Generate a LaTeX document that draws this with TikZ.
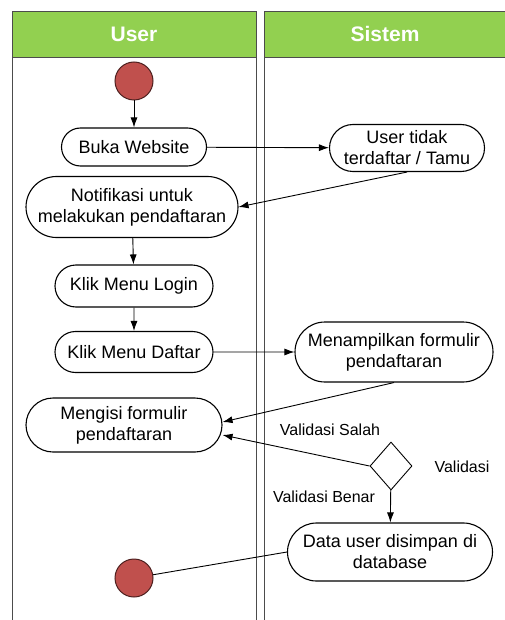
\documentclass[tikz,border=0pt]{standalone}
\usepackage{fontspec}
\setmainfont{Liberation Sans}
\usetikzlibrary{shapes.misc,shapes.geometric,arrows.meta}
\definecolor{lanegreen}{HTML}{92D050}
\definecolor{dotred}{HTML}{C0504D}
\tikzset{
    activity/.style={draw,line width=1.1pt,rounded rectangle,align=center,inner sep=0pt,font=\fontsize{18}{21}\selectfont},
    startstop/.style={circle,draw=black!60!dotred,line width=1pt,fill=dotred,minimum size=38pt,inner sep=0pt},
    flow/.style={-{Latex[length=10pt,width=7pt]},line width=0.9pt},
    lane/.style={draw=black!70,line width=1pt},
    lanehead/.style={text=white,font=\bfseries\fontsize{21}{24}\selectfont},
    guard/.style={font=\fontsize{16}{19}\selectfont}
}
\begin{document}
\begin{tikzpicture}[x=1pt,y=-1pt]
                \useasboundingbox (0,0) rectangle (505,620);
                \fill[lanegreen] (12,12) rectangle (256,58);
                \fill[lanegreen] (264,12) rectangle (505,58);
                \draw[lane] (12,620) -- (12,12) -- (256,12) -- (256,620);
                \draw[lane] (12,58) -- (256,58);
                \draw[lane] (505,12) -- (264,12) -- (264,620);
                \draw[lane] (264,58) -- (505,58);
                \node[lanehead] (user) at (134,34) {User};
                \node[lanehead] (sistem) at (385,34) {Sistem};
                \node[startstop] (start) at (134,81) {};
                \node[activity,minimum width=145pt,minimum height=38pt] (buka) at (134,147) {Buka Website};
                \node[activity,minimum width=155pt,minimum height=47pt] (tamu) at (407,148) {User tidak\\terdaftar / Tamu};
                \node[activity,minimum width=212pt,minimum height=61pt] (notif) at (132,207) {Notifikasi untuk\\melakukan pendaftaran};
                \node[activity,minimum width=158pt,minimum height=42pt] (login) at (134,286) {Klik Menu Login};
                \node[activity,minimum width=158pt,minimum height=41pt] (daftar) at (134,352) {Klik Menu Daftar};
                \node[activity,minimum width=198pt,minimum height=60pt] (tampil) at (394,352) {Menampilkan formulir\\pendaftaran};
                \node[activity,minimum width=196pt,minimum height=54pt] (isi) at (124,425) {Mengisi formulir\\pendaftaran};
                \node[diamond,draw,line width=0.9pt,minimum width=42pt,minimum height=48pt,inner sep=0pt] (valid) at (391,466) {};
                \node[activity,minimum width=205pt,minimum height=58pt] (simpan) at (390,552) {Data user disimpan di\\database};
                \node[startstop] (stop) at (134,578) {};
                \node[guard] (salah) at (330,430) {Validasi Salah};
                \node[guard] (benar) at (324,497) {Validasi Benar};
                \node[guard] (cek) at (462,467) {Validasi};
                \draw[flow] (start) -- (buka);
                \draw[flow] (buka) -- (tamu);
                \draw[flow] (tamu.south) -- (notif.east);
                \draw[flow] (notif) -- (login);
                \draw[flow] (login) -- (daftar);
                \draw[flow] (daftar) -- (tampil);
                \draw[flow] (tampil.south) -- ([yshift=3pt]isi.east);
                \draw[flow] (valid.west) -- ([yshift=-10pt]isi.east);
                \draw[flow] (valid) -- (simpan);
                \draw[line width=0.9pt] (simpan.west) -- (stop);
            \end{tikzpicture}
\end{document}
